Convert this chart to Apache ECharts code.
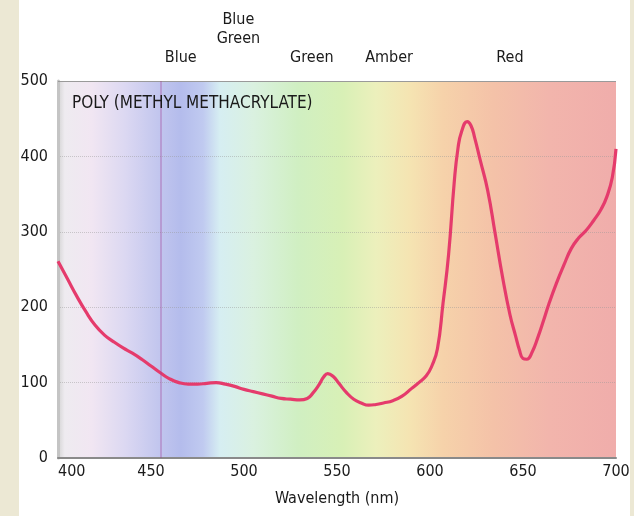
<!DOCTYPE html>
<html>
<head>
<meta charset="utf-8">
<script src="https://cdn.jsdelivr.net/npm/echarts@6/dist/echarts.min.js"></script>
<style>
  html, body { margin: 0; padding: 0; }
  #chart {
    width: 634px;
    height: 516px;
    background: linear-gradient(to right, #ece8d4 0px, #ece8d4 19px, #ffffff 19px, #ffffff 630px, #ece8d4 630px);
  }
</style>
</head>
<body>
<div id="chart"></div>
<script>
// absorption curve of PMMA
const wavelength = [400, 405, 410, 415, 420, 425, 430, 435, 440, 445, 450, 455, 460, 465, 470, 475, 480, 485, 490, 495,
  500, 505, 510, 515, 520, 525, 530, 534, 537, 540, 543, 545, 548, 551, 555, 559, 563, 567, 571, 575,
  580, 585, 590, 594, 598, 601, 604, 607, 610, 613, 615, 617, 620, 622, 624, 627, 631, 635, 639, 643,
  646, 648, 650, 652, 655, 658, 661, 664, 668, 672, 676, 680, 684, 688, 692, 695, 698, 700];
const absorption = [261, 238, 215, 194, 176, 163, 154, 146, 139, 131, 122, 113, 105, 100, 98, 98, 99, 100, 98, 95,
  91, 88, 85, 82, 79, 78, 77, 79, 86, 96, 108, 112, 108, 99, 87, 78, 73, 70, 71, 73,
  76, 82, 92, 100, 109, 122, 145, 205, 270, 365, 410, 433, 446, 441, 425, 395, 355, 298, 240, 190,
  162, 144, 132, 131, 141, 160, 182, 205, 232, 256, 278, 292, 302, 315, 330, 346, 372, 410];

// colour band names along the top
const bandNames = ['Blue', 'Blue\nGreen', 'Green', 'Amber', 'Red'];
const bandCenters = [466, 497, 536.5, 578, 643];

const yTicks = [0, 100, 200, 300, 400, 500];

const FONT = 'DejaVu Sans Condensed';

var chart = echarts.init(document.getElementById('chart'));

// spectrum behind the plot
var spectrum = new echarts.graphic.LinearGradient(0, 0, 1, 0, [
  { offset: 0.0, color: '#d4d4d4' },
  { offset: 0.012, color: '#eeebf0' },
  { offset: 0.06, color: '#f1e6f2' },
  { offset: 0.12, color: '#dcd8f2' },
  { offset: 0.18, color: '#c2c6ee' },
  { offset: 0.22, color: '#b4bcec' },
  { offset: 0.26, color: '#c0caf0' },
  { offset: 0.29, color: '#d6eef2' },
  { offset: 0.35, color: '#daf1e0' },
  { offset: 0.43, color: '#d0efc2' },
  { offset: 0.51, color: '#d8f0b6' },
  { offset: 0.57, color: '#ecf0bc' },
  { offset: 0.63, color: '#f5e4b2' },
  { offset: 0.69, color: '#f6d2aa' },
  { offset: 0.78, color: '#f4c2a8' },
  { offset: 0.88, color: '#f2b5ac' },
  { offset: 1.0, color: '#f0adab' }
]);

var option = {
  animation: false,
  textStyle: { fontFamily: FONT },
  title: {
    text: 'POLY (METHYL METHACRYLATE)',
    left: 67,
    top: 90,
    textStyle: { fontFamily: FONT, fontSize: 17, fontWeight: 'normal', color: '#1a1a1a' }
  },
  grid: {
    left: 58,
    right: 18,
    top: 81,
    bottom: 58,
    show: true,
    borderWidth: 0,
    backgroundColor: spectrum
  },
  xAxis: {
    type: 'value',
    min: 400,
    max: 700,
    interval: 50,
    name: 'Wavelength (nm)',
    nameLocation: 'middle',
    nameGap: 33,
    nameTextStyle: { fontFamily: FONT, fontSize: 16, color: '#1a1a1a' },
    axisLine: { lineStyle: { color: '#8a8a8a', width: 2 } },
    axisTick: { show: false },
    splitLine: { show: false },
    axisLabel: {
      margin: 6,
      fontFamily: FONT,
      fontSize: 16,
      color: '#1a1a1a',
      alignMinLabel: 'left'
    }
  },
  yAxis: {
    type: 'value',
    min: yTicks[0],
    max: yTicks[yTicks.length - 1],
    interval: 100,
    axisLine: { show: true, lineStyle: { color: '#c4c4c4', width: 3 } },
    axisTick: { show: false },
    splitLine: { lineStyle: { color: 'rgba(150,150,150,0.45)', type: 'dotted' } },
    axisLabel: { margin: 10, fontFamily: FONT, fontSize: 16, color: '#1a1a1a' }
  },
  series: [
    {
      type: 'line',
      data: wavelength.map((w, i) => [w, absorption[i]]),
      smooth: 0.5,
      showSymbol: false,
      lineStyle: { color: '#e53b6c', width: 3.2 },
      markLine: {
        silent: true,
        symbol: 'none',
        label: { show: false },
        data: [
          { yAxis: 500, lineStyle: { color: '#9a9a9a', width: 1, type: 'solid' } },
          { xAxis: 455, lineStyle: { color: 'rgba(160,60,150,0.3)', width: 2, type: 'solid' } }
        ]
      }
    }
  ]
};

chart.setOption(option);

// band labels, placed at their wavelength on the x scale
chart.setOption({
  graphic: bandNames.map(function (name, i) {
    var x = chart.convertToPixel({ xAxisIndex: 0 }, bandCenters[i]);
    return {
      type: 'text',
      x: x,
      y: name.indexOf('\n') >= 0 ? 48 : 67,
      style: {
        text: name,
        fontFamily: FONT,
        fontSize: 16,
        lineHeight: 19,
        fill: '#1a1a1a',
        align: 'center',
        verticalAlign: 'bottom'
      }
    };
  })
});
</script>
</body>
</html>
